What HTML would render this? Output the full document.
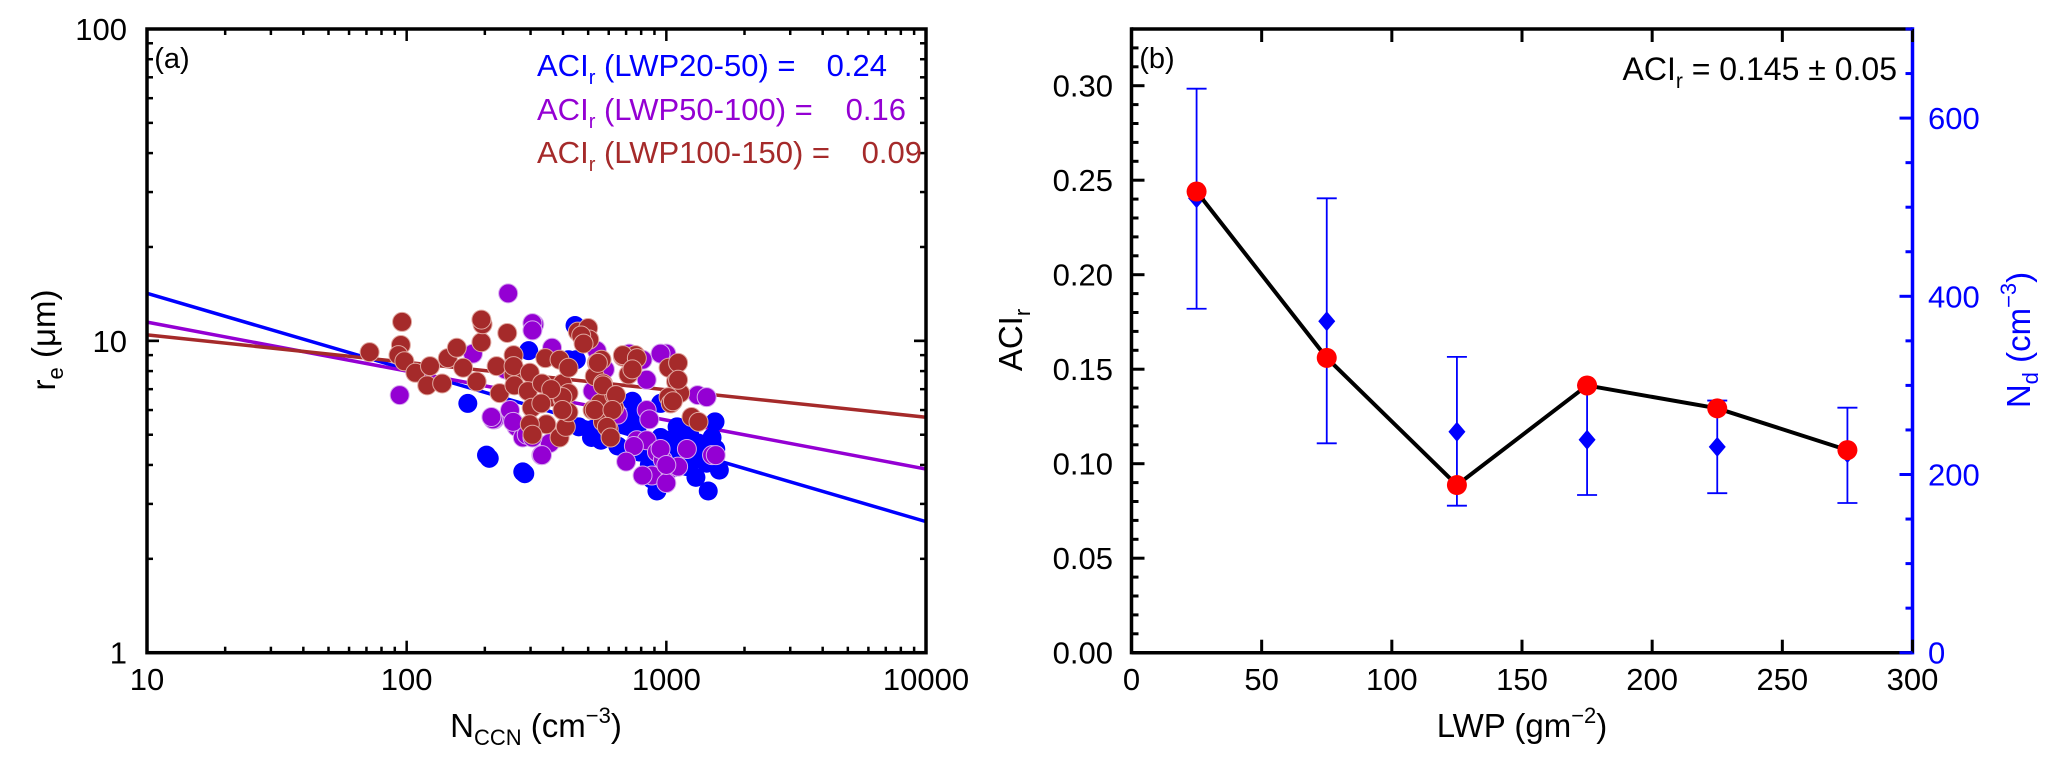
<!DOCTYPE html>
<html><head><meta charset="utf-8"><style>
html,body{margin:0;padding:0;background:#fff;}
svg{display:block;font-family:"Liberation Sans",Arial,sans-serif;}
</style></head><body>
<svg id="chart" width="2067" height="761" viewBox="0 0 2067 761" xmlns="http://www.w3.org/2000/svg">
<g id="pa"></g>
<g id="pb"></g>
</svg>
<script>
// ---------- Panel (a) data ----------
const blueN=[172,203,208,280,285,445,295,420,460,515,450,520,560,740,700,770,790,860,920,1020,1110,1230,1330,1500,1550,1600,1300,1450,1430,1270,1100,1200,1100,950,750,830,1540,950,600,650,1000,1150,1400,1250,880,1050];
const blueRe=[6.3,4.3,4.2,3.8,3.75,11.2,9.3,8.7,5.3,4.9,8.7,5.2,4.8,6.4,5.4,5.2,4.4,4.0,3.3,4.8,4.8,5.0,4.7,4.9,4.5,3.85,3.65,3.3,4.05,4.2,4.4,3.95,5.3,4.9,5.8,5.7,5.5,6.3,5.0,4.6,4.3,4.6,4.4,4.1,3.6,3.9];
const purpleN=[246,310,94,218,305,215,330,356,250,265,280,290,363,1000,810,840,1320,520,840,860,770,840,920,970,1020,880,1000,1110,950,1500,212,257,332,305,750,810,1000,950,1430,180,305,240,540,580,720,1550,700,650,1200];
const purpleRe=[14.2,11.3,6.7,5.6,11.4,5.6,4.3,4.7,6.0,5.3,4.9,5.0,9.5,9.1,8.7,7.5,6.7,6.9,6.0,5.6,4.8,4.8,4.4,4.15,3.85,3.7,3.5,3.95,4.5,4.3,5.7,5.5,4.3,4.9,4.6,3.7,4.0,9.1,6.6,9.1,10.8,8.1,9.3,8.1,9.1,4.3,4.1,5.8,4.5];
const brownN=[72,96,95,93,98,108,120,123,137,144,156,165,186,194,196,194,222,228,244,258,258,260,258,298,293,303,342,332,366,388,398,398,345,298,305,388,410,420,420,456,500,505,540,530,555,520,570,600,610,570,630,630,680,740,760,715,1020,1110,1090,1130,1020,1040,1250,1330,563,420,398,398,545,570,640,530,620,590,610,680,770,740,1110,1060,470,480,360,330];
const brownRe=[9.2,11.5,9.7,9.0,8.6,7.9,7.2,8.3,7.3,8.8,9.5,8.2,7.4,9.9,11.3,11.7,8.3,6.8,10.6,9.0,7.8,7.2,8.3,7.9,6.9,6.1,8.8,7.3,6.6,8.7,7.3,6.5,5.4,5.4,5.0,4.9,5.3,5.9,6.8,10.7,11.0,10.1,8.5,7.7,6.3,6.0,5.5,5.2,4.9,7.3,6.7,6.1,8.9,8.6,9.0,7.8,8.2,8.5,7.4,6.8,6.6,6.3,5.7,5.5,8.7,8.2,6.6,6.0,8.5,7.2,6.7,6.0,6.0,5.3,4.9,9.0,8.8,8.1,7.5,6.4,10.4,9.8,7.0,6.3];
const fitNames=["LWP20-50","LWP50-100","LWP100-150"];
const fitA=[14.2,11.48,10.45];
const fitSlope=[-0.244,-0.157,-0.088];
const fitLabels=["0.24","0.16","0.09"];
const xTicksA=[10,100,1000,10000];
const yTicksA=[1,10,100];
// ---------- Panel (b) data ----------
const lwp=[25,75,125,175,225,275];
const aci=[0.244,0.156,0.0887,0.1414,0.1293,0.1072];
const nd=[510,372,248,239,231,224];
const ndHi=[633,510,332,300,283,275];
const ndLo=[386,235,165,177,179,168];
const xTicksB=[0,50,100,150,200,250,300];
const yTicksB=[0,0.05,0.10,0.15,0.20,0.25,0.30];
const yTicksB2=[0,200,400,600];

const NS="http://www.w3.org/2000/svg";
function mk(p,tag,at){const e=document.createElementNS(NS,tag);for(const k in at)e.setAttribute(k,at[k]);p.appendChild(e);return e;}

const pa=document.getElementById('pa');
const AL=147,AR=926,AT=29,AB=652.7;
const xa=v=>AL+(Math.log10(v)-1)/3*(AR-AL);
const ya=v=>AB-Math.log10(v)/2*(AB-AT);
const cols=["#0000ff","#9400d3","#a52a2a"];
const strokes=["none","#d7a8ee","#e0a8a0"];
for(let i=0;i<3;i++){
  const l=mk(pa,'line',{x1:xa(10),y1:ya(fitA[i]),x2:xa(10000),y2:ya(fitA[i]*Math.pow(1000,fitSlope[i])),stroke:cols[i],'stroke-width':3.5});
  
  
}
const sets=[[blueN,blueRe],[purpleN,purpleRe],[brownN,brownRe]];
const setNames=["scatter-lwp20-50","scatter-lwp50-100","scatter-lwp100-150"];
sets.forEach((s,si)=>{
  const g=mk(pa,'g',{});
  
  
  s[0].forEach((n,i)=>{
    const c=mk(g,'circle',{cx:xa(n),cy:ya(s[1][i]),r:9.5,fill:cols[si],stroke:strokes[si],'stroke-width':1});
    
    
  });
});
const fa=mk(pa,'rect',{x:AL,y:AT,width:AR-AL,height:AB-AT,fill:'none',stroke:'#000','stroke-width':3.5});


for(let d=1;d<=3;d++)for(let m=1;m<10;m++){
  const v=Math.pow(10,d)*m; if(v>10000)break;
  const x=xa(v),L=m===1?12:6;
  mk(pa,'line',{x1:x,y1:AB,x2:x,y2:AB-L,stroke:'#000','stroke-width':2.5});
  mk(pa,'line',{x1:x,y1:AT,x2:x,y2:AT+L,stroke:'#000','stroke-width':2.5});
}
for(let d=0;d<2;d++)for(let m=1;m<=10;m++){
  const y=ya(Math.pow(10,d)*m),L=(m===1||m===10)?12:6;
  mk(pa,'line',{x1:AL,y1:y,x2:AL+L,y2:y,stroke:'#000','stroke-width':2.5});
  mk(pa,'line',{x1:AR,y1:y,x2:AR-L,y2:y,stroke:'#000','stroke-width':2.5});
}
xTicksA.forEach(v=>{const t=mk(pa,'text',{x:xa(v),y:690,'font-size':31,'text-anchor':'middle'});t.textContent=v;
  });
yTicksA.forEach(v=>{const t=mk(pa,'text',{x:127,y:ya(v)+11,'font-size':31,'text-anchor':'end'});t.textContent=v;
  });
const legY=[76,120,163],legEnd=[887,906,922];
for(let i=0;i<3;i++){
  const t=mk(pa,'text',{x:537,y:legY[i],'font-size':31,fill:cols[i]});
  t.innerHTML='ACI<tspan font-size="20" dy="8">r</tspan><tspan dy="-8"> ('+fitNames[i]+') =</tspan>';
  
  
  const v=mk(pa,'text',{x:legEnd[i],y:legY[i],'font-size':31,fill:cols[i],'text-anchor':'end'});v.textContent=fitLabels[i];
  
}
let t=mk(pa,'text',{x:172,y:68,'font-size':29,'text-anchor':'middle'});t.textContent='(a)';

t=mk(pa,'text',{x:536,y:737,'font-size':33,'text-anchor':'middle'});
t.innerHTML='N<tspan font-size="22" dy="8">CCN</tspan><tspan dy="-8"> (cm</tspan><tspan font-size="22" dy="-14">−3</tspan><tspan dy="14">)</tspan>';

t=mk(pa,'text',{x:0,y:0,'font-size':33,'text-anchor':'middle',transform:'translate(55,340) rotate(-90)'});
t.innerHTML='r<tspan font-size="22" dy="8">e</tspan><tspan dy="-8"> (μm)</tspan>';


// ---------- Panel b ----------
const pb=document.getElementById('pb');
const BL=1131.5,BR=1912.5,BT=29,BB=652.7;
const xb=v=>BL+v/300*(BR-BL);
const yb=v=>BB-v/0.33*(BB-BT);
const yb2=v=>BB-v/700*(BB-BT);
lwp.forEach((x,i)=>{
  const g=mk(pb,'g',{stroke:'#0000ff','stroke-width':1.8});
  
  const X=xb(x);
  mk(g,'line',{x1:X,y1:yb2(ndHi[i]),x2:X,y2:yb2(ndLo[i])});
  mk(g,'line',{x1:X-10,y1:yb2(ndHi[i]),x2:X+10,y2:yb2(ndHi[i])});
  mk(g,'line',{x1:X-10,y1:yb2(ndLo[i]),x2:X+10,y2:yb2(ndLo[i])});
  const Y=yb2(nd[i]);
  const d=mk(pb,'polygon',{points:`${X},${Y-10} ${X+8.5},${Y} ${X},${Y+10} ${X-8.5},${Y}`,fill:'#0000ff'});
  
});
const pl=mk(pb,'polyline',{points:lwp.map((x,i)=>xb(x)+','+yb(aci[i])).join(' '),fill:'none',stroke:'#000','stroke-width':4});

lwp.forEach((x,i)=>{
  const c=mk(pb,'circle',{cx:xb(x),cy:yb(aci[i]),r:10,fill:'#ff0000'});
  
});
mk(pb,'line',{x1:BL,y1:BT,x2:BR,y2:BT,stroke:'#000','stroke-width':3.5});
mk(pb,'line',{x1:BL,y1:BB,x2:BR,y2:BB,stroke:'#000','stroke-width':3.5});
mk(pb,'line',{x1:BL,y1:BT-1.7,x2:BL,y2:BB+1.7,stroke:'#000','stroke-width':3.5});
const ra=mk(pb,'line',{x1:BR,y1:BT-1.7,x2:BR,y2:BB+1.7,stroke:'#0000ff','stroke-width':3.5});

for(let v=0;v<=300;v+=50){const X=xb(v);
  mk(pb,'line',{x1:X,y1:BB,x2:X,y2:BB-13,stroke:'#000','stroke-width':3});
  mk(pb,'line',{x1:X,y1:BT,x2:X,y2:BT+13,stroke:'#000','stroke-width':3});}
for(let k=0;k<=33;k++){const Y=yb(k/100),L=k%5===0?13:7;
  mk(pb,'line',{x1:BL,y1:Y,x2:BL+L,y2:Y,stroke:'#000','stroke-width':3});}
for(let v=0;v<=700;v+=50){const Y=yb2(v),L=v%200===0?13:7;
  mk(pb,'line',{x1:BR,y1:Y,x2:BR-L,y2:Y,stroke:'#0000ff','stroke-width':3});}
xTicksB.forEach(v=>{const t=mk(pb,'text',{x:xb(v),y:690,'font-size':31,'text-anchor':'middle'});t.textContent=v;
  });
yTicksB.forEach(v=>{const t=mk(pb,'text',{x:1113,y:yb(v)+11,'font-size':31,'text-anchor':'end'});t.textContent=v.toFixed(2);
  });
yTicksB2.forEach(v=>{const t=mk(pb,'text',{x:1928,y:yb2(v)+11,'font-size':31,fill:'#0000ff'});t.textContent=v;
  });
t=mk(pb,'text',{x:1157,y:68,'font-size':29,'text-anchor':'middle'});t.textContent='(b)';

t=mk(pb,'text',{x:1897,y:80,'font-size':32,'text-anchor':'end'});
t.innerHTML='ACI<tspan font-size="21" dy="8">r</tspan><tspan dy="-8"> = 0.145 ± 0.05</tspan>';

t=mk(pb,'text',{x:1522,y:737,'font-size':33,'text-anchor':'middle'});
t.innerHTML='LWP (gm<tspan font-size="22" dy="-14">−2</tspan><tspan dy="14">)</tspan>';

t=mk(pb,'text',{x:0,y:0,'font-size':33,'text-anchor':'middle',transform:'translate(1022,340) rotate(-90)'});
t.innerHTML='ACI<tspan font-size="22" dy="8">r</tspan>';

t=mk(pb,'text',{x:0,y:0,'font-size':33,'text-anchor':'middle',fill:'#0000ff',transform:'translate(2030,340) rotate(-90)'});
t.innerHTML='N<tspan font-size="22" dy="8">d</tspan><tspan dy="-8"> (cm</tspan><tspan font-size="22" dy="-14">−3</tspan><tspan dy="14">)</tspan>';

</script>
</body></html>
